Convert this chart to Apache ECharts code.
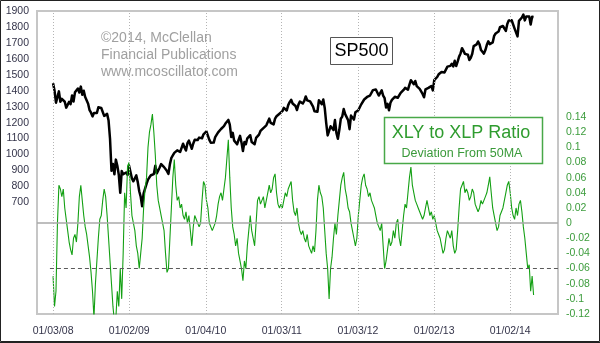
<!DOCTYPE html>
<html>
<head>
<meta charset="utf-8">
<script src="https://cdn.jsdelivr.net/npm/echarts@6/dist/echarts.min.js"></script>
<style>
  html, body { margin: 0; padding: 0; background: #fff; }
  #chart { width: 600px; height: 343px; }
</style>
</head>
<body>
<div id="chart"></div>
<script>
// Weekly observations, first one on this date, one per week after it
const firstWeek = '2008-01-03';

// S&P 500 level, weekly
const sp500 = [
  // 2008
  1447,1401,1325,1330,1396,1331,1349,1353,1331,1294,1288,1330,1316,1370,1332,1390,1397,1414,1389,1426,
  1375,1400,1360,1360,1318,1278,1262,1239,1260,1257,1260,1296,1298,1292,1283,1242,1252,1255,1213,1099,
  899,940,876,968,930,873,760,896,876,879,887,872,
  // 2009
  931,890,850,832,826,869,827,770,735,676,756,768,816,843,857,870,866,877,930,882,
  887,919,940,946,921,918,896,879,940,979,987,1010,1004,1026,1029,1016,1042,1068,1044,1025,
  1071,1087,1080,1036,1069,1093,1091,1091,1106,1106,1102,1127,1115,
  // 2010
  1145,1136,1092,1074,1066,1075,1109,1105,1139,1150,1160,1167,1178,1194,1192,1217,1187,1110,1136,1087,
  1089,1064,1092,1117,1076,1022,1078,1065,1102,1102,1121,1079,1071,1065,1104,1110,1125,1148,1146,1166,
  1176,1183,1183,1225,1199,1199,1189,1225,1240,1243,1256,1258,
  // 2011
  1272,1293,1283,1276,1310,1329,1343,1320,1321,1304,1279,1313,1332,1328,1320,1337,1364,1340,1338,1333,
  1331,1300,1271,1271,1268,1340,1344,1316,1345,1292,1199,1120,1124,1177,1174,1154,1216,1136,1099,1155,
  1224,1238,1285,1253,1263,1216,1159,1244,1255,1219,1265,1258,
  // 2012
  1278,1289,1315,1316,1345,1342,1361,1366,1370,1371,1404,1397,1408,1398,1370,1378,1403,1369,1353,1295,
  1318,1278,1325,1343,1335,1362,1354,1356,1362,1386,1391,1405,1418,1411,1407,1438,1466,1460,1441,1461,
  1429,1433,1412,1414,1380,1359,1409,1416,1418,1413,1430,1402,
  // 2013
  1466,1472,1486,1503,1513,1518,1520,1515,1518,1551,1561,1556,1569,1553,1588,1555,1582,1614,1634,1667,
  1650,1631,1643,1626,1593,1606,1632,1680,1692,1691,1709,1691,1655,1664,1633,1655,1688,1710,1692,1690,
  1703,1744,1759,1762,1771,1798,1804,1806,1805,1775,1818,1841,
  // 2014
  1831,1842,1839,1790,1783,1741,1838,1836,1859,1878,1841,1866,1857,1865,1815,1864,1863
];

// XLY / XLP ratio, deviation from its 50-day moving average, weekly
const xlyXlpDev = [
  // 2008
  -0.07,-0.11,-0.09,0.0,0.05,0.045,0.035,0.045,0.02,0.005,-0.01,-0.025,-0.035,-0.042,-0.02,-0.015,-0.025,0.0,0.035,0.05,
  0.03,0.01,-0.005,-0.015,-0.03,-0.045,-0.065,-0.09,-0.125,-0.08,-0.05,-0.02,0.005,0.01,0.03,0.045,0.035,0.01,-0.02,-0.05,
  -0.08,-0.11,-0.13,-0.125,-0.09,-0.11,-0.06,-0.1,-0.04,0.04,0.02,0.075,
  // 2009
  0.08,0.04,0.01,0.0,-0.01,-0.03,-0.04,-0.06,-0.04,-0.02,0.02,0.045,0.06,0.1,0.12,0.13,0.144,0.12,0.09,0.05,
  0.03,0.02,0.01,0.0,-0.01,-0.04,-0.065,-0.06,-0.02,0.02,0.06,0.084,0.05,0.03,0.035,0.02,0.025,0.01,0.005,0.015,
  0.0,0.01,-0.01,-0.03,-0.005,0.01,0.005,0.0,-0.005,0.0,0.03,0.055,0.05,
  // 2010
  0.03,0.02,0.0,-0.005,-0.01,-0.005,0.0,0.01,0.025,0.035,0.04,0.03,0.045,0.06,0.085,0.11,0.06,0.02,-0.005,-0.015,
  -0.03,-0.02,-0.04,-0.05,-0.06,-0.076,-0.05,-0.06,-0.03,-0.01,0.01,-0.01,-0.02,-0.03,0.0,0.03,0.035,0.025,0.03,0.035,
  0.02,0.03,0.04,0.05,0.04,0.045,0.06,0.065,0.04,0.025,0.02,0.025,
  // 2011
  0.02,0.03,0.04,0.035,0.045,0.05,0.055,0.03,0.015,0.01,0.02,0.0,-0.01,-0.015,-0.01,-0.02,-0.025,-0.015,-0.03,-0.035,
  -0.04,-0.03,-0.038,-0.01,0.03,0.05,0.04,0.035,0.02,-0.01,-0.04,-0.06,-0.1,-0.06,-0.045,-0.02,0.0,-0.015,0.01,0.03,
  0.05,0.06,0.067,0.045,0.035,0.02,0.015,0.0,-0.01,-0.02,-0.03,-0.02,
  // 2012
  0.01,0.03,0.05,0.06,0.065,0.05,0.045,0.035,0.04,0.03,0.025,0.02,0.01,0.0,-0.005,-0.01,0.0,-0.03,-0.06,-0.05,
  -0.035,-0.02,-0.03,-0.025,-0.01,-0.02,0.0,0.005,-0.02,-0.03,-0.01,0.01,0.025,0.02,0.04,0.06,0.074,0.05,0.04,0.03,
  0.025,0.02,0.015,0.01,0.005,0.01,0.02,0.03,0.02,0.01,0.015,0.005,
  // 2013
  0.01,0.0,-0.01,-0.015,-0.02,-0.03,-0.04,-0.035,-0.02,-0.01,-0.015,-0.02,-0.01,-0.03,-0.04,-0.035,-0.01,0.02,0.045,0.05,
  0.055,0.04,0.045,0.04,0.03,0.035,0.045,0.04,0.025,0.02,0.015,0.02,0.03,0.025,0.03,0.035,0.04,0.05,0.061,0.04,
  0.02,0.01,0.0,-0.01,-0.005,0.01,0.015,0.02,0.03,0.04,0.05,0.055,
  // 2014
  0.04,0.02,0.01,0.005,0.02,0.01,0.025,0.03,0.015,-0.005,-0.02,-0.04,-0.06,-0.055,-0.09,-0.07,-0.095
];

// Year marks on the time axis
const yearTickDates = ['2008-01-03','2009-01-02','2010-01-04','2011-01-03','2012-01-03','2013-01-02','2014-01-02'];
const yearTickLabels = ['01/03/08','01/02/09','01/04/10','01/03/11','01/03/12','01/02/13','01/02/14'];

// Left (SP500) and right (ratio deviation) tick labels that are printed
const spTickLabels = [700,800,900,1000,1100,1200,1300,1400,1500,1600,1700,1800,1900];
const devTickLabels = [0.14,0.12,0.1,0.08,0.06,0.04,0.02,0,-0.02,-0.04,-0.06,-0.08,-0.1,-0.12];

// Horizontal reference levels on the ratio scale
const zeroLevel = 0;
const warnLevel = -0.06;

const axisStart = '2007-10-18';
const axisEnd = '2014-08-19';
const warnLineStart = '2007-12-19';

function ts(s) {
  const p = s.split('-').map(Number);
  return new Date(p[0], p[1] - 1, p[2]).getTime();
}
function weekDate(i) {
  const p = firstWeek.split('-').map(Number);
  return new Date(p[0], p[1] - 1, p[2] + 7 * i).getTime();
}

const spData = sp500.map((v, i) => [weekDate(i), v]);
const devData = xlyXlpDev.map((v, i) => [weekDate(i), v]);
const yearTs = yearTickDates.map(ts);

const FONT = '"Liberation Sans", Arial, Helvetica, sans-serif';
const AXIS_TEXT = '#34344a';
const chart = echarts.init(document.getElementById('chart'), null, { renderer: 'canvas' });

chart.setOption({
  animation: false,
  backgroundColor: '#ffffff',
  grid: {
    left: 37, right: 42, top: 11, bottom: 29,
    show: true, borderColor: '#c6c6c6', borderWidth: 2, backgroundColor: 'transparent'
  },
  xAxis: {
    type: 'value',
    min: ts(axisStart),
    max: ts(axisEnd),
    axisLine: { show: false },
    axisTick: { show: false },
    splitLine: { show: false },
    axisLabel: { show: false }
  },
  yAxis: [
    {
      type: 'value', position: 'left',
      min: 0, max: 1900, interval: 100,
      axisLine: { show: false }, axisTick: { show: false }, splitLine: { show: false },
      axisLabel: {
        margin: 8, color: AXIS_TEXT, fontFamily: FONT, fontSize: 10.5,
        formatter: function (v) { return spTickLabels.indexOf(v) >= 0 ? String(v) : ''; }
      }
    },
    {
      type: 'value', position: 'right',
      min: -0.12, max: 0.28, interval: 0.02,
      axisLine: { show: false }, axisTick: { show: false }, splitLine: { show: false },
      axisLabel: {
        margin: 8, color: '#3c9c3c', fontFamily: FONT, fontSize: 10.5,
        formatter: function (v) {
          const r = Math.round(v * 100) / 100;
          return devTickLabels.indexOf(r) >= 0 ? String(r) : '';
        }
      }
    }
  ],
  series: [
    {
      // dotted year lines (with their date labels) and the two ratio reference levels
      type: 'line', yAxisIndex: 1, data: [], z: 1, silent: true,
      markLine: {
        silent: true, symbol: 'none', animation: false,
        emphasis: { disabled: true },
        data: yearTs.map((t, k) => ({
          xAxis: t,
          lineStyle: { type: [1, 2], color: '#b4b4b4', width: 1 },
          label: {
            show: true, position: 'start', distance: 12,
            formatter: yearTickLabels[k],
            color: AXIS_TEXT, fontFamily: FONT, fontSize: 10.5
          }
        })).concat([
          { yAxis: zeroLevel, label: { show: false }, lineStyle: { type: 'solid', color: '#a8a8a8', width: 1.5 } },
          [
            { coord: [ts(warnLineStart), warnLevel], label: { show: false }, lineStyle: { type: [4, 3], color: '#5a5a5a', width: 1 } },
            { coord: [ts(axisEnd), warnLevel] }
          ]
        ])
      }
    },
    {
      name: 'SP500', type: 'line', yAxisIndex: 0, data: spData,
      showSymbol: false, symbol: 'none', z: 3, clip: true,
      lineStyle: { color: '#000000', width: 2.5, join: 'round' }
    },
    {
      name: 'XLY to XLP Ratio', type: 'line', yAxisIndex: 1, data: devData,
      showSymbol: false, symbol: 'none', z: 4, clip: true,
      lineStyle: { color: '#14a014', width: 1.1 }
    }
  ],
  graphic: [
    { type: 'text', x: 101, y: 38, z: 10, style: { text: '©2014, McClellan', font: '14px ' + FONT, fill: '#a0a0a0', verticalAlign: 'middle' } },
    { type: 'text', x: 101, y: 55, z: 10, style: { text: 'Financial Publications', font: '14px ' + FONT, fill: '#a0a0a0', verticalAlign: 'middle' } },
    { type: 'text', x: 101, y: 72, z: 10, style: { text: 'www.mcoscillator.com', font: '14px ' + FONT, fill: '#a0a0a0', verticalAlign: 'middle' } },

    { type: 'rect', z: 10, shape: { x: 330.5, y: 37.5, width: 62, height: 27 }, style: { fill: '#ffffff', stroke: '#555555', lineWidth: 1 } },
    { type: 'text', x: 361.5, y: 51, z: 11, style: { text: 'SP500', font: '18px ' + FONT, fill: '#000000', align: 'center', verticalAlign: 'middle' } },

    { type: 'rect', z: 10, shape: { x: 384.5, y: 117.5, width: 158, height: 46 }, style: { fill: '#ffffff', stroke: '#48a848', lineWidth: 1.5 } },
    { type: 'text', x: 461, y: 133, z: 11, style: { text: 'XLY to XLP Ratio', font: '18px ' + FONT, fill: '#2f9c2f', align: 'center', verticalAlign: 'middle' } },
    { type: 'text', x: 462, y: 154, z: 11, style: { text: 'Deviation From 50MA', font: '12.5px ' + FONT, fill: '#3a9a3a', align: 'center', verticalAlign: 'middle' } },

    // outer frame
    { type: 'rect', z: 20, silent: true, shape: { x: 0.5, y: 0.5, width: 599, height: 341 }, style: { fill: 'none', stroke: '#222222', lineWidth: 1 } },
    { type: 'line', z: 20, silent: true, shape: { x1: 0, y1: 342.5, x2: 600, y2: 342.5 }, style: { stroke: '#222222', lineWidth: 1 } }
  ]
});
</script>
</body>
</html>
